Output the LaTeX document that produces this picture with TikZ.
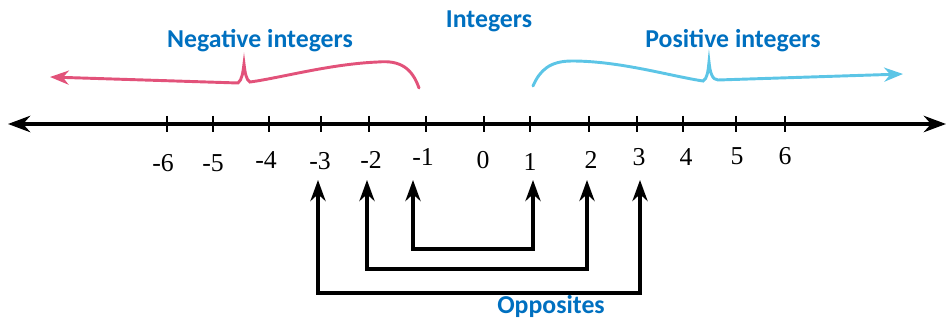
\documentclass[tikz,border=0pt]{standalone}
\usepackage{fontspec}
\setmainfont{Liberation Serif}
\newfontfamily\headfont{Carlito}
\usetikzlibrary{arrows.meta}
\definecolor{headblue}{RGB}{0,112,192}
\definecolor{negpink}{RGB}{226,82,122}
\definecolor{poscyan}{RGB}{92,197,230}

\begin{document}
\begin{tikzpicture}[x=0.03cm,y=-0.03cm,
  head/.style={anchor=base,text=headblue,font=\headfont\fontsize{22}{26}\selectfont\bfseries,inner sep=0pt},
  num/.style={inner sep=0pt,font=\fontsize{22}{26}\selectfont},
  tick/.style={line width=1.8pt},
  brace/.style={line width=2.5pt,line cap=round,-{Stealth[length=16pt,width=12pt,inset=5pt]}},
  opp/.style={line width=2.8pt,{Stealth[length=18pt,width=13pt]}-{Stealth[length=18pt,width=13pt]}}]
\useasboundingbox (0,0) rectangle (949,320);
% number line
\draw[line width=2.8pt,{Stealth[length=19pt,width=14pt]}-{Stealth[length=19pt,width=14pt]}] (8,124) -- (946,124);
\foreach \x in {167,213,269,321,369,426,484,530,589,637,683,736,785}
  \draw[tick] (\x,116) -- (\x,132);
\foreach \x/\y/\t/\n in {163/163/-6/m6, 213/163/-5/m5, 266/160/-4/m4, 320/161/-3/m3,
  371/160/-2/m2, 423/157/-1/m1, 483/160/0/z0, 530/162/1/p1, 591/160/2/p2,
  639/157/3/p3, 686/157/4/p4, 737/156/5/p5, 785/156/6/p6}
  \node[num] (\n) at (\x,\y) {\t};
% headings
\node[head] (int) at (489,28) {Integers};
\node[head] (neg) at (260,48) {Negative integers};
\node[head] (pos) at (733,48) {Positive integers};
\node[head] (opps) at (551,314) {Opposites};
% braces
\draw[brace,negpink] (419,88) .. controls (412,68) and (400,60) .. (378,62)
  .. controls (330,64) and (280,78) .. (250,82)
  .. controls (246,80) and (245,72) .. (244,64)
  .. controls (243,72) and (242,80) .. (238,83) -- (50,77);
\draw[brace,poscyan] (533,86) .. controls (540,70) and (550,61) .. (572,61)
  .. controls (620,61) and (670,76) .. (703,81)
  .. controls (707,79) and (708,72) .. (709,62)
  .. controls (710,72) and (712,80) .. (718,80) -- (903,74);
% opposites
\coordinate (am1) at (413,180);
\coordinate (ap1) at (533,180);
\coordinate (am2) at (367,180);
\coordinate (ap2) at (587,180);
\coordinate (am3) at (318,180);
\coordinate (ap3) at (640,180);
\draw[opp] (am1) -- ++(0,69) -| (ap1);
\draw[opp] (am2) -- ++(0,89) -| (ap2);
\draw[opp] (am3) -- ++(0,113) -| (ap3);
\end{tikzpicture}
\end{document}
